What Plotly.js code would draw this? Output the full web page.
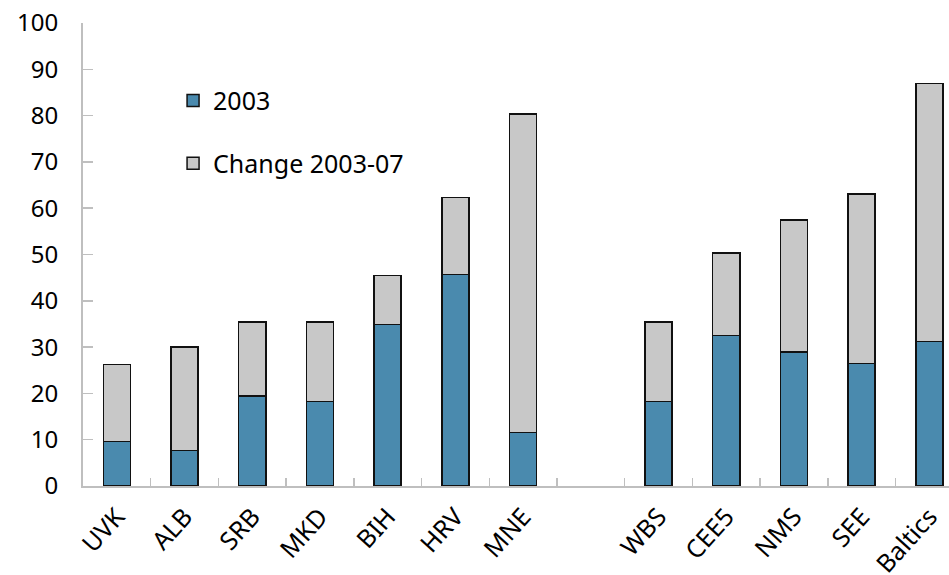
<!DOCTYPE html>
<html>
<head>
<meta charset="utf-8">
<script src="https://cdn.plot.ly/plotly-3.0.1.min.js"></script>
<style>html,body{margin:0;padding:0;background:#fff;}#chart{width:949px;height:575px;}</style>
</head>
<body>
<div id="chart"></div>
<script>
var categories = ['UVK','ALB','SRB','MKD','BIH','HRV','MNE',' ','WBS','CEE5','NMS','SEE','Baltics'];
var barCategories = ['UVK','ALB','SRB','MKD','BIH','HRV','MNE','WBS','CEE5','NMS','SEE','Baltics'];
var level2003 = [9.6, 7.7, 19.4, 18.3, 34.9, 45.7, 11.6, 18.3, 32.5, 28.9, 26.5, 31.2];
var change0307 = [16.6, 22.3, 16.0, 17.1, 10.6, 16.6, 68.8, 17.1, 17.8, 28.6, 36.6, 55.7];
var yTicks = [0,10,20,30,40,50,60,70,80,90,100];

var fontFam = '"Noto Sans", "Open Sans", sans-serif';
var traces = [
  {type:'bar', name:'2003', x:barCategories, y:level2003, width:0.4,
   marker:{color:'#4a8aae', line:{color:'#111', width:1.5}}, legend:'legend'},
  {type:'bar', name:'Change 2003-07', x:barCategories, y:change0307, width:0.4,
   marker:{color:'#c8c8c8', line:{color:'#111', width:1.5}}, legend:'legend2'}
];
var layout = {
  width:949, height:575,
  margin:{l:83, r:0, t:23, b:89},
  barmode:'stack',
  paper_bgcolor:'#fff', plot_bgcolor:'#fff',
  font:{family:fontFam, color:'#000', size:23},
  xaxis:{type:'category', categoryorder:'array', categoryarray:categories,
    range:[-0.5, 12.29], tickson:'boundaries', ticks:'inside', ticklen:8, tickcolor:'#bfbfbf', tickwidth:1.5,
    showline:true, linecolor:'#bfbfbf', linewidth:2, showgrid:false, zeroline:false,
    tickangle:-48, ticklabelstandoff:4, tickfont:{size:25, family:fontFam}},
  yaxis:{range:[0,100], tickvals:yTicks, ticks:'inside', ticklen:10, tickcolor:'#bfbfbf', tickwidth:1.5,
    showline:true, linecolor:'#bfbfbf', linewidth:2, showgrid:false, zeroline:false,
    ticklabelstandoff:18, tickfont:{size:24, family:fontFam}},
  showlegend:true,
  legend:{x:0.104, y:0.882, xanchor:'left', yanchor:'top', bgcolor:'rgba(0,0,0,0)', font:{size:25, family:fontFam}},
  legend2:{x:0.104, y:0.746, xanchor:'left', yanchor:'top', bgcolor:'rgba(0,0,0,0)', font:{size:25, family:fontFam}},
  annotations:[
    {xref:'paper', yref:'paper', x:0.012, y:1.077, xanchor:'left', yanchor:'middle', showarrow:false,
     text:'(In percent)', font:{size:19, color:'#3b7dc4', family:fontFam}},
    {xref:'paper', yref:'paper', x:-0.05, y:-0.186, xanchor:'left', yanchor:'top', showarrow:false,
     text:'Sources: National authorities; and IMF staff estimates.', font:{size:20, color:'#000', family:fontFam}}
  ]
};
Plotly.newPlot('chart', traces, layout, {displayModeBar:false, staticPlot:true});
</script>
</body>
</html>
